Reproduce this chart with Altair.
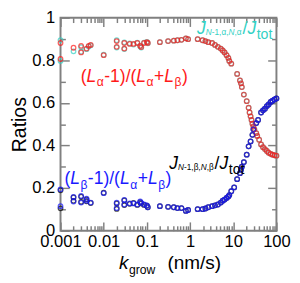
import altair as alt
import pandas as pd

# ---------------- data ----------------
# (L_alpha-1)/(L_alpha+L_beta)  -- red
k_red = [0.001, 0.001, 0.002, 0.003, 0.003, 0.004, 0.0045, 0.005, 0.01, 0.02, 0.02, 0.03, 0.03,
         0.04, 0.049, 0.06, 0.07, 0.074, 0.086, 0.1, 0.105, 0.2, 0.31, 0.42, 0.51, 0.63, 0.8, 0.9,
         1.5, 1.95, 2.27, 2.64, 3.24, 3.78, 4.41, 5.14, 5.7, 6.3, 7.0, 7.7, 8.1, 9.0, 12.3, 14.3,
         15.1, 15.8, 17.6, 20.5, 22.7, 23.9, 25.2, 26.5, 27.8, 29.3, 30.8, 34.1, 35.9, 39.8, 44.1,
         48.9, 54.1, 60.0, 66.0, 73.6, 81.0, 90.3, 100.0]
r_red = [0.881, 0.806, 0.859, 0.868, 0.837, 0.855, 0.868, 0.872, 0.824, 0.890, 0.863, 0.881, 0.855,
         0.877, 0.877, 0.881, 0.868, 0.862, 0.881, 0.885, 0.881, 0.885, 0.890, 0.892, 0.894, 0.896, 0.903, 0.899,
         0.899, 0.894, 0.890, 0.885, 0.881, 0.872, 0.863, 0.855, 0.846, 0.837, 0.824, 0.811, 0.797, 0.784, 0.736, 0.705,
         0.692, 0.674, 0.639, 0.608, 0.577, 0.555, 0.537, 0.520, 0.502, 0.489, 0.476, 0.458, 0.445, 0.427, 0.405,
         0.392, 0.383, 0.374, 0.366, 0.361, 0.357, 0.354, 0.352]

# J_{N-1,alpha,N,alpha}/J_tot  -- cyan
k_cyan = k_red
r_cyan = [0.895, 0.797, 0.842, 0.862, 0.840, 0.852, 0.865, 0.870, 0.826, 0.894, 0.860, 0.884, 0.853,
          0.879, 0.874, 0.883, 0.866, 0.860, 0.883, 0.886, 0.880, 0.885, 0.890, 0.892, 0.894, 0.896, 0.903, 0.899,
          0.899, 0.894, 0.890, 0.885, 0.881, 0.872, 0.863, 0.855, 0.846, 0.837, 0.824, 0.811, 0.797, 0.784, 0.736, 0.705,
          0.692, 0.674, 0.639, 0.608, 0.577, 0.555, 0.537, 0.520, 0.502, 0.489, 0.476, 0.458, 0.445, 0.427, 0.405,
          0.392, 0.383, 0.374, 0.366, 0.361, 0.357, 0.354, 0.352]

# (L_beta-1)/(L_alpha+L_beta)  -- blue
k_blue = [0.001, 0.001, 0.002, 0.002, 0.003, 0.003, 0.004, 0.004, 0.005, 0.01, 0.02, 0.02, 0.03, 0.03,
          0.04, 0.049, 0.06, 0.07, 0.074, 0.086, 0.1, 0.105, 0.2, 0.31, 0.42, 0.51, 0.63, 0.8, 0.9,
          1.5, 1.95, 2.27, 2.64, 3.24, 3.78, 4.41, 5.14, 5.7, 6.3, 7.0, 7.7, 8.1, 9.0, 10.5, 12.3, 14.3,
          15.1, 15.8, 17.6, 20.5, 22.7, 25.2, 27.8, 29.3, 34.1, 37.6, 44.1, 48.9, 54.1, 60.0, 66.0,
          73.6, 81.0, 90.3, 100.0]
r_blue = [0.194, 0.115, 0.159, 0.137, 0.163, 0.132, 0.150, 0.141, 0.132, 0.176, 0.132, 0.106, 0.145, 0.123,
          0.128, 0.128, 0.123, 0.137, 0.130, 0.123, 0.119, 0.110, 0.115, 0.112, 0.110, 0.106, 0.106, 0.093, 0.097,
          0.101, 0.101, 0.104, 0.110, 0.115, 0.119, 0.123, 0.132, 0.141, 0.146, 0.154, 0.160, 0.167, 0.185, 0.203, 0.242, 0.270,
          0.286, 0.300, 0.322, 0.357, 0.396, 0.419, 0.450, 0.476, 0.505, 0.520, 0.555, 0.565, 0.573, 0.585, 0.593,
          0.604, 0.610, 0.616, 0.621]

# J_{N-1,beta,N,beta}/J_tot  -- black
k_black = k_blue
r_black = [0.190, 0.105, 0.156, 0.140, 0.160, 0.135, 0.147, 0.138, 0.130, 0.178, 0.128, 0.102, 0.142, 0.120,
           0.126, 0.130, 0.121, 0.134, 0.128, 0.121, 0.117, 0.110, 0.115, 0.112, 0.110, 0.106, 0.106, 0.093, 0.097,
           0.101, 0.101, 0.104, 0.110, 0.115, 0.119, 0.123, 0.132, 0.141, 0.146, 0.154, 0.160, 0.167, 0.185, 0.203, 0.242, 0.270,
           0.286, 0.300, 0.322, 0.357, 0.396, 0.419, 0.450, 0.476, 0.505, 0.520, 0.555, 0.565, 0.573, 0.585, 0.593,
           0.604, 0.610, 0.616, 0.621]

x_major = [0.001, 0.01, 0.1, 1, 10, 100]
x_minor = [m * d for d in [0.001, 0.01, 0.1, 1, 10] for m in range(2, 10)]
y_major = [0, 0.2, 0.4, 0.6, 0.8, 1.0]
y_minor = [0.1, 0.3, 0.5, 0.7, 0.9]

# label pieces: (text, size, italic, dy, gap before)
red_label = [("(", 18, False, 0, 0), ("L", 18, True, 0, 0), ("α", 12.5, False, 5, 0.5),
             ("-1)/(", 18, False, 0, 0.5), ("L", 18, True, 0, 0), ("α", 12.5, False, 5, 0.5),
             ("+", 18, False, 0, 0.5), ("L", 18, True, 0, 0), ("β", 12.5, False, 5, 0.5),
             (")", 18, False, 0, 0.5)]
blue_label = [("(", 18, False, 0, 0), ("L", 18, True, 0, 0), ("β", 12.5, False, 5, 0.5),
              ("-1)/(", 18, False, 0, 0.5), ("L", 18, True, 0, 0), ("α", 12.5, False, 5, 0.5),
              ("+", 18, False, 0, 0.5), ("L", 18, True, 0, 0), ("β", 12.5, False, 5, 0.5),
              (")", 18, False, 0, 0.5)]
cyan_label = [("J", 18, True, 0, 0), ("N", 8.5, True, 1, 0), ("-1,α,", 8.5, False, 1, 0),
              ("N", 8.5, True, 1, 0), (",α", 8.5, False, 1, 0), ("/", 18, False, 0, 1),
              ("J", 18, True, 0, 0), ("tot", 14.5, False, 5, 0.5)]
black_label = [("J", 18, True, 0, 0), ("N", 8.5, True, 1, 0), ("-1,β,", 8.5, False, 1, 0),
               ("N", 8.5, True, 1, 0), (",β", 8.5, False, 1, 0), ("/", 18, False, 0, 1),
               ("J", 18, True, 0, 0), ("tot", 14.5, False, 5, 0.5)]
xtitle = [("k", 19.5, True, 0, 0), ("grow", 12.5, False, 6, 0.5), ("(nm/s)", 19.5, False, 0, 12.5)]

# ---------------- styling ----------------
FONT = "Liberation Sans"
GRAY = "#808080"
RED = "#ff1a1a"
BLUE = "#1a1aff"
CYAN = "#33d1c4"
BLACK = "#000000"
W, H = 222, 219

xscale = alt.Scale(type="log", domain=[0.001, 100], nice=False)
yscale = alt.Scale(domain=[0, 1], nice=False)

CW = {"(": .333, ")": .333, "-": .333, "1": .556, "/": .278, "+": .584, "L": .556, "J": .5,
      "N": .722, ",": .278, "t": .278, "o": .556, "α": .58, "β": .57, "k": .5, "g": .556,
      "r": .333, "w": .722, " ": .278, "n": .556, "m": .833, "s": .5}


def tw(s, size):
    return sum(CW.get(c, 0.55) for c in s) * size


def points(k, r, color):
    df = pd.DataFrame({"k": k, "r": r})
    return alt.Chart(df).mark_point(shape="circle", filled=False, size=22, strokeWidth=1.3,
                                    color=color, clip=False).encode(
        x=alt.X("k:Q", scale=xscale, axis=None),
        y=alt.Y("r:Q", scale=yscale, axis=None))


def label(pieces, k0, color, v0=None, ypix=None):
    layers = []
    x = 0.0
    for text, size, italic, dy, gap in pieces:
        x += gap
        yenc = alt.YDatum(v0, type="quantitative", scale=yscale, axis=None) if v0 is not None else alt.value(ypix)
        layers.append(
            alt.Chart(pd.DataFrame({"t": [text]})).mark_text(
                align="left", baseline="alphabetic", dx=x, dy=dy, fontSize=size,
                fontStyle="italic" if italic else "normal", font=FONT, color=color, clip=False
            ).encode(x=alt.XDatum(k0, type="quantitative", scale=xscale, axis=None), y=yenc, text="t:N"))
        x += tw(text, size)
    return layers


dummy = pd.DataFrame({"k": [1.0], "r": [0.5]})


def axis_layer(xaxis, yaxis):
    return alt.Chart(dummy).mark_point(opacity=0).encode(
        x=alt.X("k:Q", scale=xscale, axis=xaxis),
        y=alt.Y("r:Q", scale=yscale, axis=yaxis))


tick_common = dict(labels=False, domain=False, grid=False, ticks=True, tickColor=GRAY,
                   tickWidth=1.5, title=None)

axes = [
    axis_layer(
        alt.Axis(orient="bottom", values=x_major, format="~g", ticks=False, domain=False, grid=False,
                 labelFontSize=17, labelFont=FONT, labelColor="black", labelPadding=3,
                 labelFlush=False, labelOverlap=False, title=None),
        alt.Axis(orient="left", values=y_major, format="~g", ticks=False, domain=False, grid=False,
                 labelFontSize=17, labelFont=FONT, labelColor="black", labelPadding=6,
                 labelFlush=False, labelOverlap=False, title="Ratios", titleFontSize=20,
                 titleFont=FONT, titleFontWeight="normal", titleColor="black", titlePadding=2)),
    axis_layer(alt.Axis(orient="top", offset=-H, values=x_major, tickSize=9, **tick_common),
               alt.Axis(orient="right", offset=-W, values=y_major, tickSize=9, **tick_common)),
    axis_layer(alt.Axis(orient="top", offset=-H, values=x_minor, tickSize=5, **tick_common),
               alt.Axis(orient="right", offset=-W, values=y_minor, tickSize=5, **tick_common)),
    axis_layer(alt.Axis(orient="bottom", offset=-H, values=x_major, tickSize=9, **tick_common),
               alt.Axis(orient="left", offset=-W, values=y_major, tickSize=9, **tick_common)),
    axis_layer(alt.Axis(orient="bottom", offset=-H, values=x_minor, tickSize=5, **tick_common),
               alt.Axis(orient="left", offset=-W, values=y_minor, tickSize=5, **tick_common)),
]

layers = [points(k_cyan, r_cyan, CYAN), points(k_black, r_black, BLACK),
          points(k_red, r_red, RED), points(k_blue, r_blue, BLUE)]
layers += label(red_label, 0.00293, RED, v0=0.70)
layers += label(blue_label, 0.00123, BLUE, v0=0.22)
layers += label(cyan_label, 1.45, CYAN, v0=0.925)
layers += label(black_label, 0.33, BLACK, v0=0.291)
layers += label(xtitle, 0.0226, BLACK, ypix=H + 39)
layers += axes

chart = alt.layer(*layers).resolve_axis(x="independent", y="independent").properties(
    width=W, height=H,
    padding={"left": 54, "top": 6, "right": 16, "bottom": 56},
    autosize=alt.AutoSizeParams(type="none"),
    background="white",
).configure_view(stroke=GRAY, strokeWidth=2)

chart.save("out.html", embed_options={"renderer": "svg", "actions": False})
